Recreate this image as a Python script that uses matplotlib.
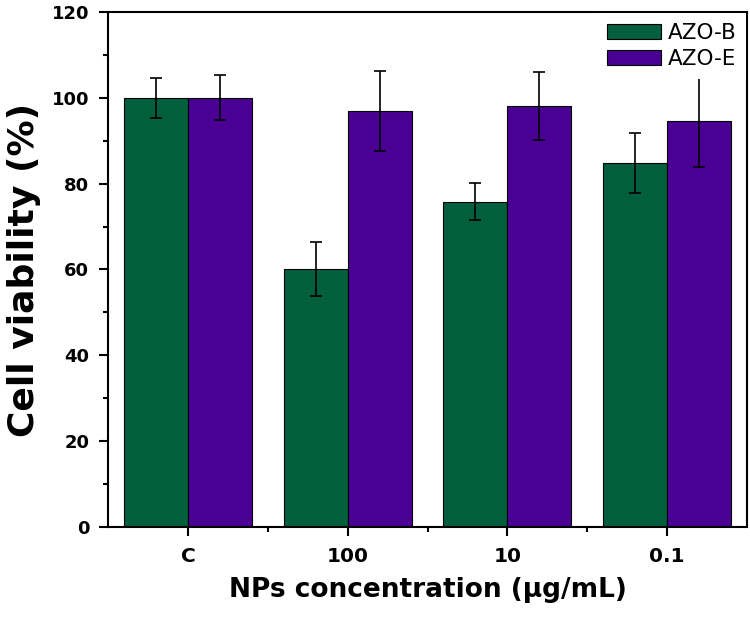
import numpy as np
import matplotlib
matplotlib.use("Agg")
import matplotlib.pyplot as plt
from matplotlib.ticker import MultipleLocator, FixedLocator

# Cell viability data
categories = ['C', '100', '10', '0.1']
azo_b = [100.0, 60.1, 75.8, 84.8]
azo_b_err = [4.7, 6.4, 4.3, 7.0]
azo_e = [100.0, 97.0, 98.1, 94.6]
azo_e_err = [5.2, 9.3, 8.0, 10.7]

green = '#015F3E'
purple = '#4A0092'

plt.rcParams['font.family'] = ['DejaVu Sans']

fig = plt.figure(figsize=(7.5, 6.23), dpi=100)
ax = fig.add_axes([0.144, 0.154, 0.852, 0.827])

x = np.arange(len(categories))
w = 0.4
# capsize is half the cap width in matplotlib
err_style = dict(ecolor='black', elinewidth=1.2, capsize=4.3, capthick=1.2)

ax.bar(x - w / 2, azo_b, w, yerr=azo_b_err, color=green, edgecolor='black',
       linewidth=0.8, label='AZO-B', error_kw=err_style)
ax.bar(x + w / 2, azo_e, w, yerr=azo_e_err, color=purple, edgecolor='black',
       linewidth=0.8, label='AZO-E', error_kw=err_style)

ax.set_xlim(-0.5, 3.5)
ax.set_ylim(0, 120)
ax.set_xticks(x)
ax.set_xticklabels(categories)
ax.xaxis.set_minor_locator(FixedLocator([0.5, 1.5, 2.5]))
ax.yaxis.set_major_locator(MultipleLocator(20))
ax.yaxis.set_minor_locator(MultipleLocator(10))

ax.tick_params(axis='both', which='major', direction='out', length=6.5, width=1.5)
ax.tick_params(axis='both', which='minor', direction='out', length=3.8, width=1.5)
ax.tick_params(axis='y', which='major', labelsize=13, pad=7)
ax.tick_params(axis='x', which='major', labelsize=14.5, pad=8)
for lab in ax.get_xticklabels() + ax.get_yticklabels():
    lab.set_fontweight('bold')

for s in ax.spines.values():
    s.set_linewidth(1.5)

ax.set_ylabel('Cell viability (%)', fontsize=26, fontweight='bold', labelpad=8)
ax.set_xlabel('NPs concentration (µg/mL)', fontsize=19, fontweight='bold', labelpad=8)

leg = ax.legend(loc='upper right', fontsize=15.5, frameon=True, framealpha=1,
                facecolor='white', edgecolor='none', fancybox=False,
                handlelength=2.5, handleheight=0.7, handletextpad=0.3,
                labelspacing=0.3, borderpad=0.45, borderaxespad=0.05)
for h in leg.legend_handles:
    h.set_edgecolor('black')

fig.savefig('out.png', dpi=100)
